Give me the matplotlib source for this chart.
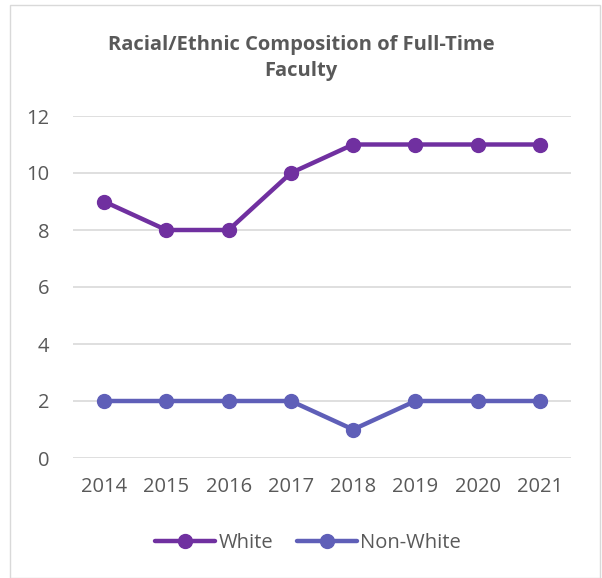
import matplotlib
matplotlib.use("Agg")
import matplotlib.pyplot as plt
from matplotlib.patches import Rectangle

years = ["2014", "2015", "2016", "2017", "2018", "2019", "2020", "2021"]
white = [9, 8, 8, 10, 11, 11, 11, 11]
non_white = [2, 2, 2, 2, 1, 2, 2, 2]
y_ticks = [0, 2, 4, 6, 8, 10, 12]

plt.rcParams["font.family"] = ["Open Sans", "DejaVu Sans"]
text_color = "#595959"

fig = plt.figure(figsize=(6.02, 5.78), dpi=100)
fig.patches.append(Rectangle((10 / 602, 0.0), 590 / 602, 573 / 578, transform=fig.transFigure,
                             fill=False, edgecolor="#d9d9d9", linewidth=1.0))

ax = fig.add_axes([73 / 602, 1 - 458 / 578, 498 / 602, 342 / 578])
x = list(range(len(years)))
ax.plot(x, white, color="#7030A0", linewidth=3.2, marker="o", markersize=10,
        solid_capstyle="round", label="White")
ax.plot(x, non_white, color="#5F5FB8", linewidth=3.2, marker="o", markersize=10,
        solid_capstyle="round", label="Non-White")

ax.set_xlim(-0.5, len(years) - 0.5)
ax.set_ylim(0, 12)
ax.set_yticks(y_ticks)
ax.set_xticks(x)
ax.set_xticklabels(years)
ax.grid(axis="y", color="#d9d9d9", linewidth=1.2)
ax.set_axisbelow(True)
for s in ax.spines.values():
    s.set_visible(False)
ax.tick_params(axis="x", length=0, labelsize=14.5, labelcolor=text_color, pad=14)
ax.tick_params(axis="y", length=0, labelsize=14.5, labelcolor=text_color, pad=17)

fig.text(0.5, 1 - 58 / 578, "Racial/Ethnic Composition of Full-Time\nFaculty", ha="center", va="center",
         fontsize=14.5, fontweight="bold", color=text_color, linespacing=1.35)

leg = fig.legend(loc="center", bbox_to_anchor=(308 / 602, 1 - 543 / 578), ncol=2, frameon=False,
                 fontsize=14.5, handlelength=3.0, columnspacing=1.2, handletextpad=0.15)
for t in leg.get_texts():
    t.set_color(text_color)

fig.savefig("out.png", dpi=100)
